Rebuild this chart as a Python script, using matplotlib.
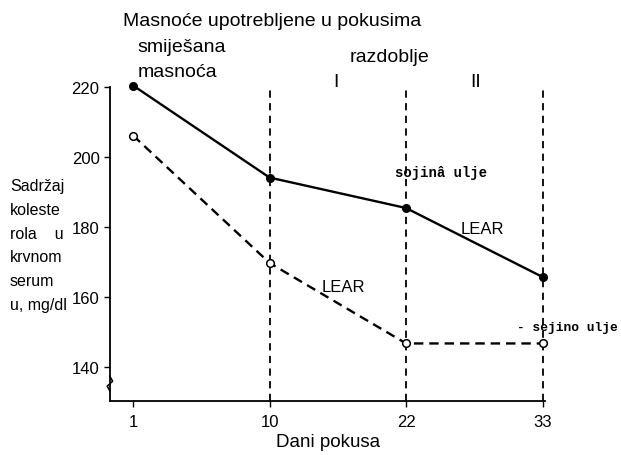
import matplotlib
matplotlib.use("Agg")
import matplotlib.pyplot as plt
import numpy as np

# podaci
days = ["1", "10", "22", "33"]
lear_mixed = [220.5, 194.2, 185.5, 165.8]   # puna linija
lear_soy = [206.2, 169.8, 146.8, 146.8]     # isprekidana linija
y_ticks = [140, 160, 180, 200, 220]

plt.rcParams["font.family"] = ["Liberation Sans", "DejaVu Sans"]

x = np.arange(len(days))
fig = plt.figure(figsize=(6.21, 4.56), dpi=100)
ax = fig.add_axes([0.177, 0.118, 0.701, 0.693])

y_lo, y_hi = 130.3, 220.6
ax.set_xlim(-0.17, 3.02)
ax.set_ylim(y_lo, y_hi)

# razdjelne crte razdoblja
for xi in x[1:]:
    ax.plot([xi, xi], [y_lo, y_hi], color="black", lw=1.3, ls=(0, (4, 3)), zorder=1)

ax.plot(x, lear_mixed, color="black", lw=1.7, marker="o", ms=5.5,
        mfc="black", mec="black", zorder=3, clip_on=False)
ax.plot(x, lear_soy, color="black", lw=1.7, ls=(0, (4, 2.5)), marker="o", ms=5.5,
        mfc="white", mec="black", mew=1.1, zorder=3, clip_on=False)

ax.spines["top"].set_visible(False)
ax.spines["right"].set_visible(False)
ax.spines["left"].set_bounds(y_lo, 220)
for s in ("left", "bottom"):
    ax.spines[s].set_linewidth(1.3)

ax.set_xticks(x)
ax.set_xticklabels(days)
ax.set_yticks(y_ticks)
ax.tick_params(axis="both", direction="out", length=4, width=1.0, labelsize=12)
ax.tick_params(axis="x", pad=5)

# prekid osi y
bx = -0.17
ax.plot([bx, bx - 0.02, bx + 0.02, bx], [133.2, 134.6, 136.0, 137.4],
        color="black", lw=1.1, clip_on=False, zorder=4)

ax.set_xlabel("Dani pokusa", fontsize=13.5, labelpad=3)

fig.text(0.198, 0.952, "Masnoće upotrebljene u pokusima", fontsize=14, va="center")
fig.text(0.222, 0.895, "smiješana", fontsize=14, va="center")
fig.text(0.222, 0.842, "masnoća", fontsize=14, va="center")
fig.text(0.628, 0.873, "razdoblje", fontsize=14, ha="center", va="center")
fig.text(0.541, 0.819, "I", fontsize=14, ha="center", va="center")
fig.text(0.766, 0.819, "II", fontsize=14, ha="center", va="center")

ylabel_lines = ["Sadržaj", "koleste", "rola    u", "krvnom", "serum", "u, mg/dl"]
for i, line in enumerate(ylabel_lines):
    fig.text(0.016, 0.590 - i * 0.0518, line, fontsize=11.5, va="center")

mono = ["Liberation Mono", "DejaVu Sans Mono"]
ax.text(x[2] - 0.08, 195.7, "sojinâ ulje", family=mono, fontsize=10,
        fontweight="bold", va="center")
fig.text(0.995, 0.281, "- sejino ulje", family=mono, fontsize=9.3,
         fontweight="bold", ha="right", va="center")
ax.text(x[2] + 0.40, 179.7, "LEAR", fontsize=12, va="center")
ax.text(x[1] + 0.38, 163.1, "LEAR", fontsize=12, va="center")

fig.savefig("out.png", dpi=100)
